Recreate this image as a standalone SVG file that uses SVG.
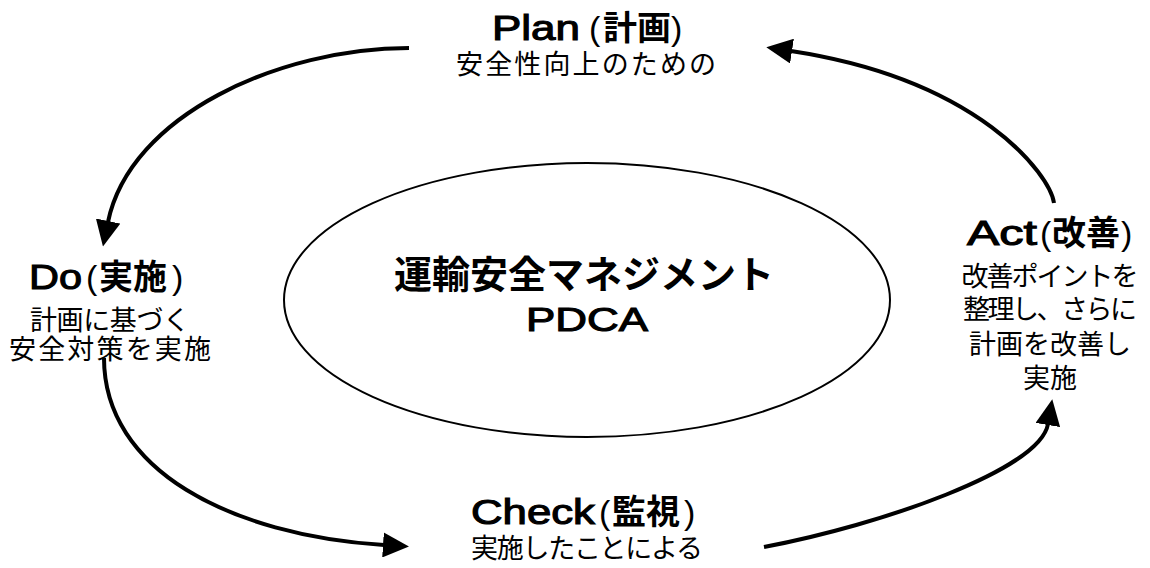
<svg xmlns="http://www.w3.org/2000/svg" width="1150" height="568" viewBox="0 0 1150 568">
<style>
.l{font-family:"Liberation Sans",sans-serif;font-size:35px;fill:#000;stroke:#000;stroke-width:1.1}
.p{font-family:"Liberation Sans",sans-serif;font-size:34px;fill:#000}
.k{font-family:"Noto Sans CJK JP",sans-serif;font-weight:bold;font-size:34px;fill:#000}
.s{font-family:"Noto Sans CJK JP","Liberation Sans",sans-serif;font-size:27px;fill:#000;text-anchor:middle}
.a{fill:none;stroke:#000;stroke-width:4}
</style>
<defs>
<marker id="ah" markerUnits="userSpaceOnUse" markerWidth="26" markerHeight="25" viewBox="0 0 26 25" refX="1" refY="12.5" orient="auto">
<path d="M0,0 L26,12.5 L0,25 z" fill="#000"/>
</marker>
</defs>
<rect width="1150" height="568" fill="#fff"/>
<g id="center">
<ellipse cx="587" cy="300" rx="303" ry="137" fill="none" stroke="#000" stroke-width="2"/>
<text x="584" y="288" font-family="Noto Sans CJK JP, sans-serif" font-weight="bold" font-size="38" text-anchor="middle">運輸安全マネジメント</text>
<text x="526" y="331" font-family="Liberation Sans, sans-serif" font-size="34" stroke="#000" stroke-width="1.1" textLength="122" lengthAdjust="spacingAndGlyphs">PDCA</text>
</g>
<g id="connectors">
<path class="a" d="M409,48 C280,48 130,115 108,222" marker-end="url(#ah)"/>
<path class="a" d="M104,358 C104,470 230,535 384,545" marker-end="url(#ah)"/>
<path class="a" d="M764,547 C880,525 1040,470 1048,424" marker-end="url(#ah)"/>
<path class="a" d="M1054,203 C1050,175 980,80 791,51" marker-end="url(#ah)"/>
</g>
<g id="plan">
<text class="l" x="492" y="40" textLength="88" lengthAdjust="spacingAndGlyphs">Plan</text>
<text class="p" x="589" y="40">(</text>
<text class="k" x="603" y="40">計画</text>
<text class="p" x="671" y="40">)</text>
<text class="s" x="586" y="74" textLength="260">安全性向上のための</text>
</g>
<g id="do">
<text class="l" x="29" y="289" textLength="53" lengthAdjust="spacingAndGlyphs">Do</text>
<text class="p" x="86" y="289">(</text>
<text class="k" x="99" y="289">実施</text>
<text class="p" x="172" y="289">)</text>
<text class="s" x="110" y="330" textLength="160">計画に基づく</text>
<text class="s" x="110" y="359" textLength="202">安全対策を実施</text>
</g>
<g id="check">
<text class="l" x="471" y="524" textLength="124" lengthAdjust="spacingAndGlyphs">Check</text>
<text class="p" x="599" y="524">(</text>
<text class="k" x="612" y="524">監視</text>
<text class="p" x="684" y="524">)</text>
<text class="s" x="587" y="558" textLength="232">実施したことによる</text>
</g>
<g id="act">
<text class="l" x="967" y="245" textLength="70" lengthAdjust="spacingAndGlyphs">Act</text>
<text class="p" x="1040" y="245">(</text>
<text class="k" x="1052" y="245">改善</text>
<text class="p" x="1121" y="245">)</text>
<text class="s" x="1050" y="286" textLength="177">改善ポイントを</text>
<text class="s" x="1050" y="319" textLength="174">整理し、さらに</text>
<text class="s" x="1050" y="354" textLength="162">計画を改善し</text>
<text class="s" x="1050" y="388">実施</text>
</g>
</svg>
